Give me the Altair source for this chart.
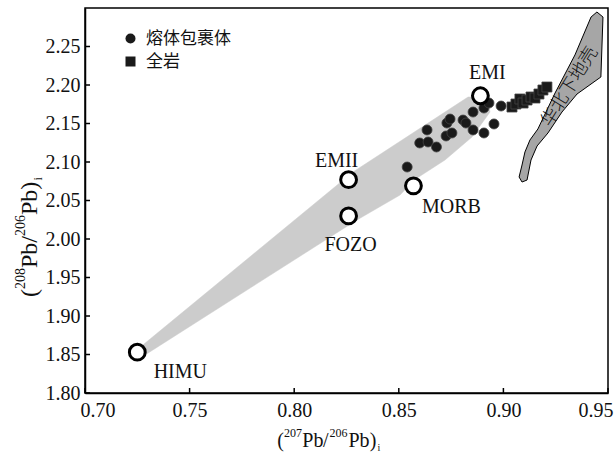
import altair as alt
import pandas as pd

# ---- data ----
em_names = ["HIMU", "EMII", "FOZO", "MORB", "EMI"]
em_x = [0.725, 0.826, 0.826, 0.857, 0.889]
em_y = [1.853, 2.077, 2.030, 2.069, 2.186]

mi_x = [0.854, 0.8635, 0.860, 0.864, 0.868, 0.873, 0.8745, 0.8726, 0.8754,
        0.8807, 0.8821, 0.8855, 0.8855, 0.8907, 0.8907, 0.8931, 0.8955, 0.8989]
mi_y = [2.0935, 2.1416, 2.1247, 2.126, 2.1195, 2.1506, 2.1558, 2.1338, 2.1377,
        2.1545, 2.1506, 2.1416, 2.1649, 2.1377, 2.1701, 2.1766, 2.1494, 2.1727]

wr_x = [0.9041, 0.9060, 0.9079, 0.9094, 0.9113, 0.9132, 0.9151, 0.9170, 0.9189, 0.9208]
wr_y = [2.1714, 2.1753, 2.1818, 2.1766, 2.1805, 2.1844, 2.1831, 2.1883, 2.1935, 2.1974]

mix_x = [0.7253, 0.8281, 0.8831, 0.8922, 0.8936, 0.8850, 0.8721, 0.8573, 0.8506, 0.8300, 0.7287]
mix_y = [1.8571, 2.0870, 2.1844, 2.1844, 2.1649, 2.1325, 2.1026, 2.0766, 2.0571, 2.0247, 1.8494]

crust_x = [0.9447, 0.9476, 0.9466, 0.9352, 0.9280, 0.9213, 0.9161, 0.9132, 0.9113,
           0.9089, 0.9075, 0.9089, 0.9103, 0.9127, 0.9165, 0.9247, 0.9342, 0.9419]
crust_y = [2.2948, 2.2883, 2.2104, 2.1883, 2.1649, 2.1377, 2.1208, 2.1026, 2.0766,
           2.0740, 2.0805, 2.0961, 2.1130, 2.1286, 2.1429, 2.1896, 2.2390, 2.2883]

crust_label = "华北下地壳"
crust_label_x = [0.9318]
crust_label_y = [2.1974]

series_names = ["熔体包裹体", "全岩"]
x_ticks = [0.70, 0.75, 0.80, 0.85, 0.90, 0.95]
y_ticks = [1.80, 1.85, 1.90, 1.95, 2.00, 2.05, 2.10, 2.15, 2.20, 2.25]

# axis titles: (207Pb/206Pb)i and (208Pb/206Pb)i, as text pieces with their roles
x_title_text = ["(", "207", "Pb", "/", "206", "Pb", ")", "i"]
y_title_text = ["(", "208", "Pb", "/", "206", "Pb", ")", "i"]
title_roles = ["main", "sup", "main", "main", "sup", "main", "main", "sub"]

# ---- tables ----
def poly(xs, ys):
    xs = list(xs) + [xs[0]]
    ys = list(ys) + [ys[0]]
    return pd.DataFrame({"x": xs, "y": ys, "i": list(range(len(xs)))})

mix_df = poly(mix_x, mix_y)
crust_df = poly(crust_x, crust_y)
pts_df = pd.DataFrame({
    "x": mi_x + wr_x,
    "y": mi_y + wr_y,
    "s": [series_names[0]] * len(mi_x) + [series_names[1]] * len(wr_x),
})
em_df = pd.DataFrame({"x": em_x, "y": em_y, "name": em_names})
lab_df = pd.DataFrame({"x": crust_label_x, "y": crust_label_y, "t": [crust_label]})
xt_df = pd.DataFrame({"v": x_ticks})
yt_df = pd.DataFrame({"v": y_ticks})

W, H = 523, 385
xs = alt.Scale(domain=[0.70, 0.95], nice=False, zero=False)
ys = alt.Scale(domain=[1.80, 2.30], nice=False, zero=False)

xax = alt.X("x:Q", scale=xs, axis=alt.Axis(
    values=x_ticks, format=".2f", title=None,
    labelFlush=True, labelFlushOffset=5, labelPadding=7))
yax = alt.Y("y:Q", scale=ys, axis=alt.Axis(
    values=y_ticks, format=".2f", title=None, labelPadding=5))

mix = alt.Chart(mix_df).mark_line(fill="#cccccc", stroke="#cccccc", strokeWidth=0.5).encode(
    x=xax, y=yax, order="i:O")

crust = alt.Chart(crust_df).mark_line(fill="#a6a6a6", stroke="#000000", strokeWidth=1).encode(
    x="x:Q", y="y:Q", order="i:O")

crust_text = alt.Chart(lab_df).mark_text(
    font="Noto Sans CJK SC", fontSize=18, angle=302, color="#111",
    align="center", baseline="middle", fontWeight=300).encode(
    x="x:Q", y="y:Q", text="t:N")

pts = alt.Chart(pts_df).mark_point(filled=True, color="#1a1a1a", size=100, opacity=1,
                                   stroke="#444", strokeWidth=0.8).encode(
    x="x:Q", y="y:Q",
    shape=alt.Shape("s:N", scale=alt.Scale(domain=series_names, range=["circle", "square"]),
                    legend=alt.Legend(title=None, orient="none", legendX=37, legendY=22,
                                      labelFont="Noto Sans CJK SC", labelFontSize=17,
                                      labelColor="#111", symbolSize=100, labelOffset=7,
                                      rowPadding=5, padding=0, symbolFillColor="#222",
                                      symbolStrokeColor="#000", symbolStrokeWidth=1)))

ems = alt.Chart(em_df).mark_point(filled=False, shape="circle", size=250, stroke="#000",
                                  strokeWidth=3, fill="white", fillOpacity=1).encode(
    x="x:Q", y="y:Q")

offsets = {"HIMU": (43, 20), "EMII": (-12, -19), "FOZO": (2, 29), "MORB": (38, 21), "EMI": (7, -23)}
labels = []
for n in em_names:
    dx, dy = offsets[n]
    labels.append(alt.Chart(em_df).transform_filter(alt.datum.name == n).mark_text(
        font="Liberation Serif", fontSize=20, color="#111", dx=dx, dy=dy,
        align="center", baseline="middle").encode(x="x:Q", y="y:Q", text="name:N"))

xt = alt.Chart(xt_df).mark_rule(color="#000", strokeWidth=1.5).encode(
    x="v:Q", y=alt.value(H - 5), y2=alt.value(H))
yt = alt.Chart(yt_df).mark_rule(color="#000", strokeWidth=1.5).encode(
    y="v:Q", x=alt.value(0), x2=alt.value(5))

# ---- axis titles built from pieces (mixed sizes for super/subscripts) ----
def title_layers(pieces, roles, sizes, along, base, angle):
    out = []
    for t, r, a in zip(pieces, roles, along):
        b = base[r]
        if angle == 0:
            xv, yv = a, b
        else:
            xv, yv = b, a
        mk = dict(font="Liberation Serif", fontSize=sizes[r], color="#111",
                  align="left", baseline="alphabetic")
        if angle:
            mk["angle"] = angle
        out.append(alt.Chart(pd.DataFrame({"t": [t]})).mark_text(**mk).encode(
            x=alt.value(xv), y=alt.value(yv), text="t:N"))
    return out

xt_layers = title_layers(
    x_title_text, title_roles, {"main": 20, "sup": 12, "sub": 10},
    [192.3, 199, 217.3, 238, 244.5, 263.5, 284.8, 292.5],
    {"main": H + 53.5, "sup": H + 43.5, "sub": H + 57.5}, 0)
yt_layers = title_layers(
    y_title_text, title_roles, {"main": 24, "sup": 14, "sub": 12},
    [289, 281, 260, 234.7, 228, 207, 181.7, 172.5],
    {"main": -48, "sup": -60, "sub": -43}, 270)

chart = alt.layer(mix, crust, crust_text, pts, ems, *labels, xt, yt,
                  *xt_layers, *yt_layers).properties(
    width=W, height=H,
    padding={"left": 85, "top": 8, "right": 6, "bottom": 62},
    autosize=alt.AutoSizeParams(type="none"),
    background="white",
).configure_view(stroke="#000", strokeWidth=1.5).configure_axis(
    grid=False, ticks=False, domainColor="#000", domainWidth=1.5,
    labelFont="Liberation Serif", labelFontSize=20, labelColor="#111",
)

chart.save("out.html", embed_options={"renderer": "svg", "actions": False})
